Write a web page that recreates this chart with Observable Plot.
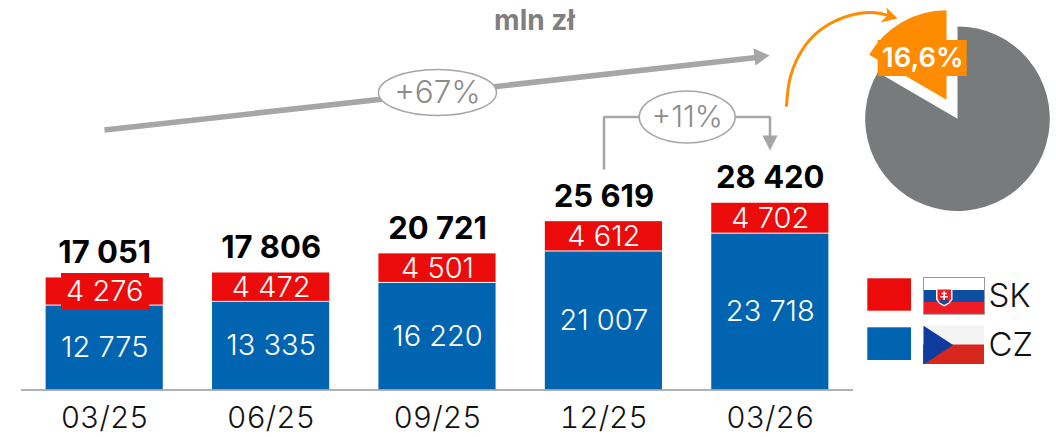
<!DOCTYPE html>
<html>
<head>
<meta charset="utf-8">
<script src="https://cdn.jsdelivr.net/npm/d3@7"></script>
<script src="https://cdn.jsdelivr.net/npm/@observablehq/plot@0.6"></script>
<style>html,body{margin:0;padding:0;background:#fff}svg{display:block}</style>
</head>
<body>
<div id="chart"></div>
<script>
const categories = ["03/25", "06/25", "09/25", "12/25", "03/26"];
const cz = [12775, 13335, 16220, 21007, 23718];
const sk = [4276, 4472, 4501, 4612, 4702];
const totals = [17051, 17806, 20721, 25619, 28420];
const pieShares = [83.4, 16.6];
const pieShareLabel = "16,6%";
const unitLabel = "mln zł";
const growthLabels = ["+67%", "+11%"];
const legendLabels = ["SK", "CZ"];

const W = 1056, H = 437, mL = 21, mR = 203, mT = 0, mB = 47.5;
const xDomain = [-0.5, 4.5], yDomain = [0, 59280];
const FONT = "Inter, 'DejaVu Sans', sans-serif";
const RED = "#EC0B0B", BLUE = "#0064B0", ORANGE = "#FF8C00", PIE = "#787B7B", GREY = "#A6A6A6", TXT = "#8C8C8C";

// annotation geometry is stated in frame pixels and converted to scale units
const X = px => xDomain[0] + (px - mL) / (W - mL - mR) * (xDomain[1] - xDomain[0]);
const Y = py => yDomain[0] + (H - mB - py) / (H - mB - mT) * (yDomain[1] - yDomain[0]);
const pts = a => a.map(([x, y]) => ({x: X(x), y: Y(y)}));
const fmt = v => d3.format(",")(v).replace(/,/g, "\u00a0");
const idx = categories.map((_, i) => i);
const halfBar = 0.352;

const poly = (a, fill, extra = {}) => Plot.line(pts(a), {x: "x", y: "y", fill, stroke: "none", ...extra});
const path = (a, stroke, strokeWidth, extra = {}) => Plot.line(pts(a), {x: "x", y: "y", stroke, strokeWidth, strokeLinejoin: "miter", strokeLinecap: "butt", ...extra});
const box = (x1, y1, x2, y2, fill, extra = {}) => Plot.rect([0], {x1: X(x1), x2: X(x2), y1: Y(y1), y2: Y(y2), fill, ...extra});
const note = (x, y, text, o = {}) => Plot.text([text], {x: X(x), y: Y(y), text: d => d, fontFamily: FONT, ...o});
const glyph = (x, y, draw, o = {}) => Plot.dot([0], {x: X(x), y: Y(y), r: 10, symbol: {draw}, ...o});

const sector = (r, a0, a1) => ctx => { ctx.moveTo(0, 0); ctx.arc(0, 0, r, a0, a1); ctx.closePath(); };
const ellipse = (rx, ry) => ctx => {
  const k = 0.5523;
  ctx.moveTo(rx, 0);
  ctx.bezierCurveTo(rx, k * ry, k * rx, ry, 0, ry);
  ctx.bezierCurveTo(-k * rx, ry, -rx, k * ry, -rx, 0);
  ctx.bezierCurveTo(-rx, -k * ry, -k * rx, -ry, 0, -ry);
  ctx.bezierCurveTo(k * rx, -ry, rx, -k * ry, rx, 0);
  ctx.closePath();
};
const pieStart = -Math.PI / 2;
const share = s => 2 * Math.PI * s / 100;

const marks = [
  // bars
  Plot.rect(idx, {x1: i => i - halfBar, x2: i => i + halfBar, y1: 0, y2: i => cz[i], fill: BLUE}),
  Plot.rect(idx, {x1: i => i - halfBar, x2: i => i + halfBar, y1: i => cz[i], y2: i => cz[i] + sk[i], fill: RED, insetBottom: 1}),
  box(61, 273, 149, 309, RED),
  Plot.ruleY([0], {stroke: "#999", strokeWidth: 1.5}),
  Plot.axisX({ticks: idx, tickFormat: i => categories[i], tickSize: 0, tickPadding: 17, fontSize: 30, fontFamily: FONT, fontWeight: 300, fill: "#111", label: null}),
  Plot.text(idx, {x: i => i, y: i => cz[i] / 2, text: i => fmt(cz[i]), fill: "#fff", fontSize: 29, fontFamily: FONT, fontWeight: 300}),
  Plot.text(idx, {x: i => i, y: i => cz[i] + sk[i] / 2, text: i => fmt(sk[i]), fill: "#fff", fontSize: 29, fontFamily: FONT, fontWeight: 300}),
  Plot.text(idx, {x: i => i, y: i => totals[i], dy: -25, text: i => fmt(totals[i]), fill: "#000", fontSize: 31, fontFamily: FONT, fontWeight: 700}),

  // unit
  note(534, 21, unitLabel, {fontSize: 28, fontWeight: 700, fill: "#7F7F7F"}),

  // long trend arrow
  path([[104, 129.5], [756, 57]], GREY, 5.5),
  poly([[753, 48], [769, 55], [755, 65]], GREY),
  glyph(437, 92, ellipse(59, 23), {fill: "#fff", stroke: GREY, strokeWidth: 1.5}),
  note(437, 92, growthLabels[0], {fontSize: 31.5, fontWeight: 300, fill: TXT}),

  // short bracket arrow
  path([[603.5, 169], [603.5, 116.5], [640, 116.5]], GREY, 2.5),
  path([[734, 116.5], [769.5, 116.5], [769.5, 137]], GREY, 2.5),
  poly([[762, 135], [777, 135], [769.5, 150]], GREY),
  glyph(686.7, 116.5, ellipse(48, 26), {fill: "#fff", stroke: GREY, strokeWidth: 1.5}),
  note(686.7, 116.5, growthLabels[1], {fontSize: 30, fontWeight: 300, fill: TXT}),

  // pie
  glyph(957, 118.2, sector(92.3, pieStart, pieStart + share(pieShares[0])), {fill: PIE}),
  glyph(946, 99.3, sector(89.5, pieStart - share(pieShares[1]), pieStart), {fill: ORANGE}),
  box(877.7, 40, 966.7, 76, ORANGE),
  note(922.3, 58, pieShareLabel, {fontSize: 27.5, fontWeight: 600, fill: "#fff"}),

  // curved arrow
  Plot.line(pts([[786, 105], [790, 76], [804, 46], [828, 24], [858, 13], [880, 13], [892, 16.5]]), {x: "x", y: "y", stroke: ORANGE, strokeWidth: 3, curve: "natural"}),
  poly([[886, 7], [897, 18], [880, 22], [887, 15]], ORANGE),

  // legend
  box(867.3, 278.3, 911, 310.7, RED),
  box(867.3, 327.3, 911, 360, BLUE),
  box(923.5, 277.5, 984.5, 290, "#fff"),
  box(923.5, 290, 984.5, 302, "#0B4EA2"),
  box(923.5, 302, 984.5, 314, "#EE1C25"),
  box(923.5, 277.5, 984.5, 314.3, "none", {stroke: "#999", strokeWidth: 1}),
  poly([[935.5, 287.5], [952, 287.5], [952, 299], [949, 303], [943.7, 306], [938.5, 303], [935.5, 299]], "#fff"),
  poly([[937, 289], [950.5, 289], [950.5, 298.5], [948, 302], [943.7, 304.3], [939.5, 302], [937, 298.5]], "#EE1C25"),
  poly([[938.5, 301.5], [941, 298.5], [943.7, 300], [946.5, 298.5], [949, 301.5], [943.7, 304.3]], "#0B4EA2"),
  path([[943.7, 290.5], [943.7, 299.5]], "#fff", 1.6),
  path([[941, 293], [946.4, 293]], "#fff", 1.4),
  path([[940, 296.3], [947.4, 296.3]], "#fff", 1.4),

  box(923, 325.3, 984, 344.5, "#F4F4F4"),
  box(923, 344.5, 984, 364, "#D7261B"),
  poly([[923, 325.3], [952.7, 344.5], [923, 364]], "#0D3C9E"),
  note(988, 296, legendLabels[0], {fontSize: 33, fontWeight: 300, fill: "#111", textAnchor: "start"}),
  note(988, 345, legendLabels[1], {fontSize: 33, fontWeight: 300, fill: "#111", textAnchor: "start"})
];

document.getElementById("chart").append(Plot.plot({
  width: W, height: H,
  marginLeft: mL, marginRight: mR, marginTop: mT, marginBottom: mB,
  style: {background: "#fff", fontFamily: FONT, overflow: "visible"},
  x: {domain: xDomain, axis: null},
  y: {domain: yDomain, axis: null},
  marks
}));
</script>
</body>
</html>
